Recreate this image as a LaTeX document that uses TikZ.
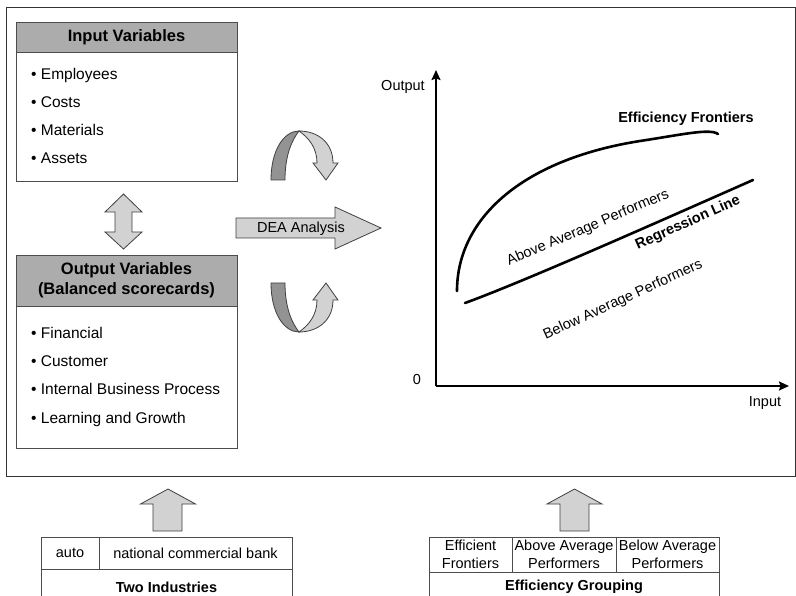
\documentclass[tikz,border=0pt]{standalone}
\usepackage{fontspec}
\setmainfont{Liberation Sans}
\usetikzlibrary{arrows.meta, positioning, calc}

\begin{document}
\begin{tikzpicture}[x=1pt, y=-1pt,
    frame/.style={draw=black!80, line width=1pt},
    head/.style={draw=black!70, fill=gray!65, line width=0.9pt, minimum width=221pt, inner sep=0pt, font=\fontsize{16.5}{20}\selectfont\bfseries, align=center},
    body/.style={draw=black!70, fill=white, line width=0.9pt, minimum width=221pt, inner sep=0pt},
    item/.style={anchor=base west, inner sep=0pt, font=\fontsize{15.5}{18}\selectfont},
    blockarrow/.style={draw=black!75, fill=gray!35, line width=0.8pt, line join=miter},
    label/.style={font=\fontsize{14.5}{17}\selectfont, inner sep=0pt},
    cell/.style={draw=black!70, line width=0.8pt, inner sep=0pt, font=\fontsize{14.5}{17.5}\selectfont, align=center},
    curve/.style={line width=2.6pt, line cap=round},
]
    \clip (0,0) rectangle (796,596);
    \fill[white] (0,0) rectangle (796,596);
    \draw[frame] (6,8) rectangle (795,476);

    % input and output boxes
    \node[head, minimum height=30pt] (inhead) at (126.5,37) {Input Variables};
    \node[body, minimum height=129pt] (inbody) at (126.5,116.5) {};
    \foreach \txt [count=\i] in {Employees, Costs, Materials, Assets}
        \node[item] (in\i) at (31,51.2+28.1*\i) {•\ \txt};

    \node[head, minimum height=51pt] (outhead) at (126.5,280.5) {Output Variables\\(Balanced scorecards)};
    \node[body, minimum height=142pt] (outbody) at (126.5,377) {};
    \foreach \txt [count=\i] in {Financial, Customer, Internal Business Process, Learning and Growth}
        \node[item] (out\i) at (31,310+28.33*\i) {•\ \txt};

    % double arrow between the boxes
    \draw[blockarrow] (123.5,194) -- (142,212) -- (132,212) -- (132,232) -- (142,232)
        -- (123.5,249) -- (105,232) -- (115,232) -- (115,212) -- (105,212) -- cycle;

    % DEA arrow
    \draw[blockarrow] (236,218) -- (335,218) -- (335,207) -- (381,228) -- (335,249)
        -- (335,238) -- (236,238) -- cycle;
    \node[label] (dea) at (301,229) {DEA Analysis};

    % u-turn arrows
    \foreach \yy/\s in {180/1, 283/-1}{
        \begin{scope}[shift={(302,\yy)}, yscale=\s]
            \draw[blockarrow, fill=gray!85] (-31,0) .. controls (-31,-30) and (-18,-49) .. (-3,-49)
                .. controls (-10,-40) and (-17,-25) .. (-17,0) -- cycle;
            \draw[blockarrow] (-3,-49) .. controls (15,-49) and (31,-38) .. (31,-17) -- (36,-17)
                -- (24,0) -- (11,-17) -- (15,-17) .. controls (15,-32) and (7,-42) .. (-3,-49) -- cycle;
        \end{scope}
    }

    % chart
    \coordinate (origin) at (436,386);
    \coordinate (ytop) at (436,70);
    \coordinate (xend) at (789,386);
    \draw[line width=1.8pt, -{Stealth[length=10pt, width=9pt, inset=1.5pt]}] (origin) -- (ytop);
    \draw[line width=1.8pt, -{Stealth[length=10pt, width=9pt, inset=1.5pt]}] (origin) -- (xend);
    \node[label] (ylab) at (403,87) {Output};
    \node[label] (zero) at (417,380) {0};
    \node[label] (xlab) at (765,403) {Input};

    \draw[curve] (457,291) .. controls (457,220) and (520,160) .. (640,141)
        .. controls (680,135) and (710,128) .. (718,134);
    \draw[curve] (465,303) .. controls (520,283) and (640,230) .. (753,180);

    \node[label, font=\fontsize{14.5}{17}\selectfont\bfseries] (eff) at (686,119) {Efficiency Frontiers};
    \node[label, rotate=23] (above) at (588,228) {Above Average Performers};
    \node[label, rotate=24, font=\fontsize{14.5}{17}\selectfont\bfseries] (reg) at (688,223) {Regression Line};
    \node[label, rotate=24.5] (below) at (623,300) {Below Average Performers};

    % bottom tables
    \draw[blockarrow] (168,489) -- (195.5,504) -- (182,504) -- (182,531) -- (153,531) -- (153,504) -- (140.5,504) -- cycle;
    \draw[blockarrow] (574.5,489) -- (602,504) -- (589,504) -- (589,531) -- (560,531) -- (560,504) -- (547,504) -- cycle;

    \node[cell, minimum width=58pt, minimum height=32pt] (auto) at (70,553) {auto};
    \node[cell, minimum width=193pt, minimum height=32pt] (bank) at (195.5,553) {national commercial bank};
    \node[cell, minimum width=251pt, minimum height=36pt, font=\fontsize{14.5}{17}\selectfont\bfseries] (ind) at (166.5,587) {Two Industries};

    \node[cell, minimum width=83pt, minimum height=35pt] (effc) at (470.5,554.5) {Efficient\\Frontiers};
    \node[cell, minimum width=104pt, minimum height=35pt] (abovec) at (564,554.5) {Above Average\\Performers};
    \node[cell, minimum width=103pt, minimum height=35pt] (belowc) at (667.5,554.5) {Below Average\\Performers};
    \node[cell, minimum width=290pt, minimum height=30pt, font=\fontsize{14.5}{17}\selectfont\bfseries] (grp) at (574,587) {Efficiency Grouping};
\end{tikzpicture}
\end{document}
